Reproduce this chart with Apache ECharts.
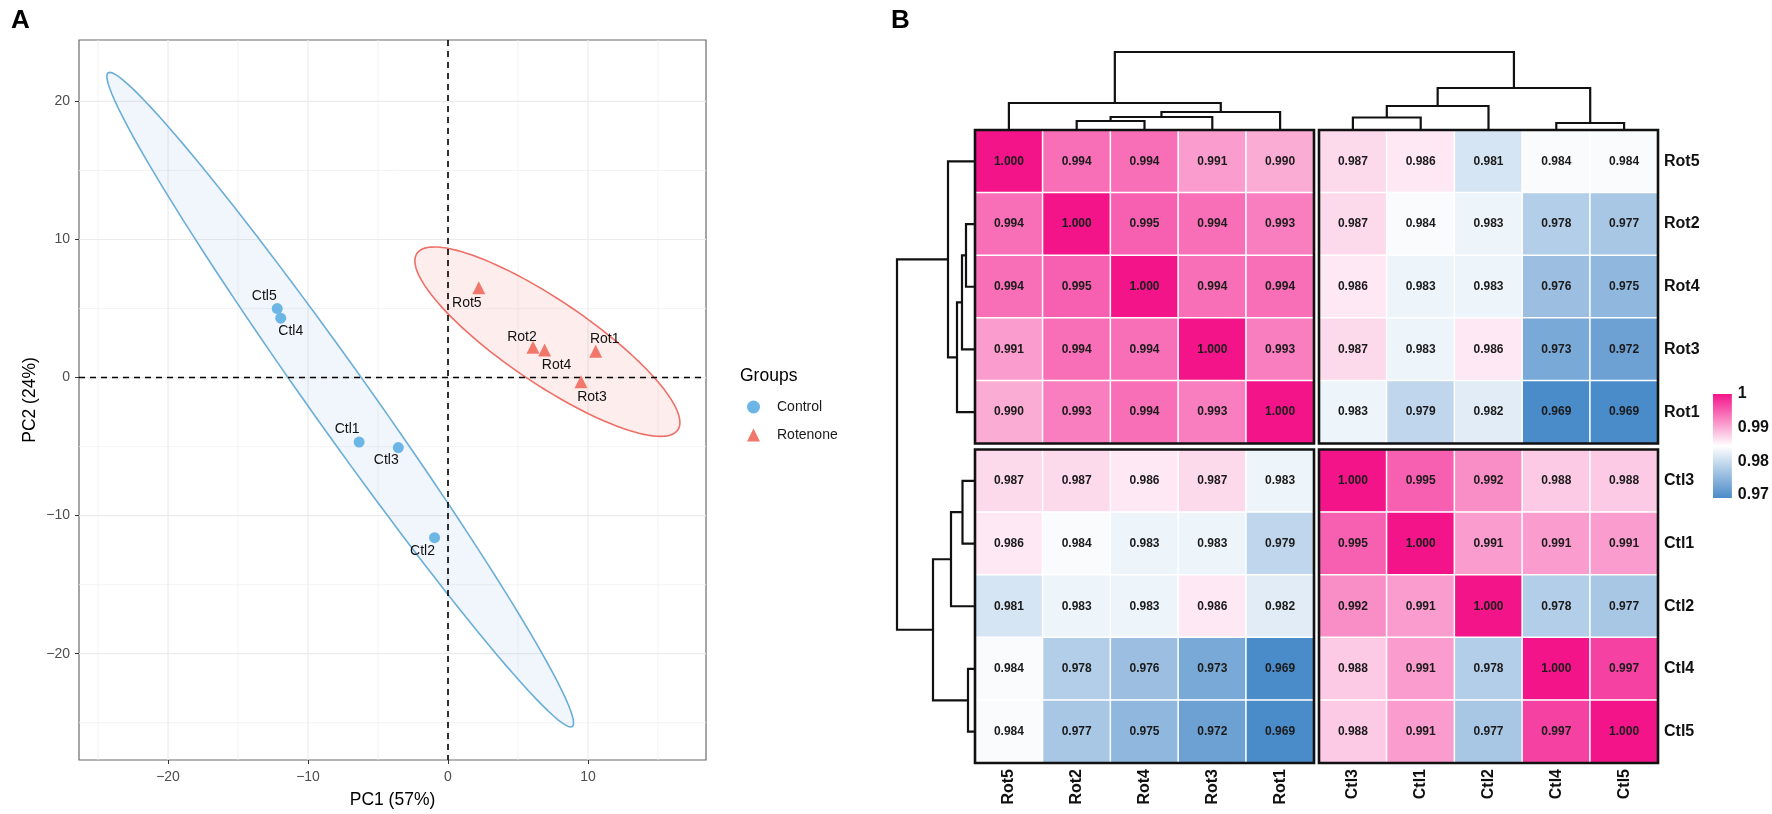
<!DOCTYPE html>
<html>
<head>
<meta charset="utf-8">
<script src="https://cdn.jsdelivr.net/npm/echarts@6/dist/echarts.min.js"></script>
<style>
html,body{margin:0;padding:0;background:#fff}
#main{width:1772px;height:814px}
</style>
</head>
<body>
<div id="main"></div>
<script>
// ---------- panel A: PCA scores ----------
const ctlNames = ['Ctl1', 'Ctl2', 'Ctl3', 'Ctl4', 'Ctl5'];
const ctlPC1 = [-6.35, -0.96, -3.55, -11.95, -12.2];
const ctlPC2 = [-4.67, -11.6, -5.07, 4.3, 5.0];
const rotNames = ['Rot1', 'Rot2', 'Rot3', 'Rot4', 'Rot5'];
const rotPC1 = [10.55, 6.07, 9.5, 6.9, 2.2];
const rotPC2 = [1.9, 2.2, -0.3, 2.0, 6.5];
// 95% ellipses: centre x, centre y, semi-major, semi-minor, angle of major axis (deg)
const ctlEllipse = [-7.7, -1.6, 28.9, 2.15, 125];
const rotEllipse = [7.1, 2.6, 11.3, 3.0, -34.5];
// axis ticks / grid lines
const pcaMajorX = [-20, -10, 0, 10];
const pcaMinorX = [-25, -15, -5, 5, 15];
const pcaMajorY = [-20, -10, 0, 10, 20];
const pcaMinorY = [-25, -15, -5, 5, 15];

// ---------- panel B: sample correlation heatmap ----------
const samples = ['Rot5', 'Rot2', 'Rot4', 'Rot3', 'Rot1', 'Ctl3', 'Ctl1', 'Ctl2', 'Ctl4', 'Ctl5'];
const corr = [
  [1.000, 0.994, 0.994, 0.991, 0.990, 0.987, 0.986, 0.981, 0.984, 0.984],
  [0.994, 1.000, 0.995, 0.994, 0.993, 0.987, 0.984, 0.983, 0.978, 0.977],
  [0.994, 0.995, 1.000, 0.994, 0.994, 0.986, 0.983, 0.983, 0.976, 0.975],
  [0.991, 0.994, 0.994, 1.000, 0.993, 0.987, 0.983, 0.986, 0.973, 0.972],
  [0.990, 0.993, 0.994, 0.993, 1.000, 0.983, 0.979, 0.982, 0.969, 0.969],
  [0.987, 0.987, 0.986, 0.987, 0.983, 1.000, 0.995, 0.992, 0.988, 0.988],
  [0.986, 0.984, 0.983, 0.983, 0.979, 0.995, 1.000, 0.991, 0.991, 0.991],
  [0.981, 0.983, 0.983, 0.986, 0.982, 0.992, 0.991, 1.000, 0.978, 0.977],
  [0.984, 0.978, 0.976, 0.973, 0.969, 0.988, 0.991, 0.978, 1.000, 0.997],
  [0.984, 0.977, 0.975, 0.972, 0.969, 0.988, 0.991, 0.977, 0.997, 1.000]
];
// hierarchical clustering (same tree for rows and columns): child, child, merge height
const dendroMerges = [
  ['Ctl4', 'Ctl5', 0.7],
  ['Rot2', 'Rot4', 0.9],
  ['m1', 'Rot3', 1.3],
  ['Ctl3', 'Ctl1', 1.25],
  ['m2', 'Rot1', 1.8],
  ['m3', 'Ctl2', 2.4],
  ['Rot5', 'm4', 2.7],
  ['m5', 'm0', 4.2],
  ['m6', 'm7', 7.8]
];
const legendTicks = [0.97, 0.98, 0.99, 1];

const FONT = '"Liberation Sans", Arial, Helvetica, sans-serif';
const BLUE = '#4a8bc9', PINK = '#f3148a';
const CTL_COL = '#6cb6e6', ROT_COL = '#f2776b';

// label placement for point names (px offsets from the point)
const labelOffset = {
  Ctl1: [-12, -13], Ctl2: [-12, 13], Ctl3: [-12, 13], Ctl4: [10, 13], Ctl5: [-13, -12],
  Rot1: [9, -12], Rot2: [-11, -10], Rot3: [11, 15], Rot4: [12, 15], Rot5: [-12, 15]
};

// layout of panel B
const HM = { left: 975, top: 130, cw: 67.8, ch: 62.7, gapX: 5, gapY: 6 };
const blockW = HM.cw * 5, blockH = HM.ch * 5;
const gx = HM.gapX / HM.cw, gy = HM.gapY / HM.ch;

const chart = echarts.init(document.getElementById('main'));

const minus = v => String(v).replace('-', '\u2212');

function scatterData(names, xs, ys) {
  return names.map((n, i) => ({
    name: n,
    value: [xs[i], ys[i]],
    label: { offset: labelOffset[n] }
  }));
}

function ellipseSeries(params, stroke, fill) {
  return {
    type: 'custom',
    xAxisIndex: 0, yAxisIndex: 0,
    z: 2, silent: true, clip: true,
    data: [[params[0], params[1]]],
    renderItem: function (p, api) {
      const [cx, cy, a, b, deg] = params;
      const th = deg * Math.PI / 180;
      const pts = [];
      for (let k = 0; k <= 120; k++) {
        const t = k / 120 * Math.PI * 2;
        const x = cx + a * Math.cos(t) * Math.cos(th) - b * Math.sin(t) * Math.sin(th);
        const y = cy + a * Math.cos(t) * Math.sin(th) + b * Math.sin(t) * Math.cos(th);
        pts.push(api.coord([x, y]));
      }
      return { type: 'polygon', shape: { points: pts }, style: { fill: fill, stroke: stroke, lineWidth: 1.6 } };
    }
  };
}

function refLineSeries(lines, z) {
  // lines: [value, orientation(0 = vertical, 1 = horizontal), kind]
  return {
    type: 'custom',
    xAxisIndex: 0, yAxisIndex: 0,
    z: z, silent: true,
    data: lines,
    renderItem: function (p, api) {
      const cs = p.coordSys;
      const v = api.value(0), o = api.value(1), kind = api.value(2);
      let shape;
      if (o === 0) {
        const x = api.coord([v, 0])[0];
        shape = { x1: x, y1: cs.y, x2: x, y2: cs.y + cs.height };
      } else {
        const y = api.coord([0, v])[1];
        shape = { x1: cs.x, y1: y, x2: cs.x + cs.width, y2: y };
      }
      let style;
      if (kind === 2) style = { stroke: '#000', lineWidth: 1.6, lineDash: [6, 5] };
      else if (kind === 1) style = { stroke: '#ebebeb', lineWidth: 1.2 };
      else style = { stroke: '#f0f0f0', lineWidth: 0.8 };
      return { type: 'line', shape: shape, style: style };
    }
  };
}

const gridLines = [];
pcaMinorX.forEach(v => gridLines.push([v, 0, 0]));
pcaMinorY.forEach(v => gridLines.push([v, 1, 0]));
pcaMajorX.forEach(v => gridLines.push([v, 0, 1]));
pcaMajorY.forEach(v => gridLines.push([v, 1, 1]));

// ---------- options ----------
const grids = [{ left: 79, top: 40, width: 627, height: 725, show: true, borderColor: '#6b6b6b', borderWidth: 1.2, backgroundColor: '#fff' }];
const xAxes = [{
  type: 'value', gridIndex: 0, min: -26.36, max: 18.43,
  name: 'PC1 (57%)', nameLocation: 'middle', nameGap: 31,
  nameTextStyle: { fontFamily: FONT, fontSize: 17.5, color: '#000' },
  axisLine: { show: false, onZero: false },
  axisTick: { show: true, length: 4, customValues: pcaMajorX, lineStyle: { color: '#333' } },
  axisLabel: { customValues: pcaMajorX, formatter: minus, fontFamily: FONT, fontSize: 14, color: '#4d4d4d', margin: 10 },
  splitLine: { show: false }
}];
const yAxes = [{
  type: 'value', gridIndex: 0, min: -27.7, max: 24.45,
  name: 'PC2 (24%)', nameLocation: 'middle', nameGap: 40,
  nameTextStyle: { fontFamily: FONT, fontSize: 17.5, color: '#000' },
  axisLine: { show: false, onZero: false },
  axisTick: { show: true, length: 4, customValues: pcaMajorY, lineStyle: { color: '#333' } },
  axisLabel: { customValues: pcaMajorY, formatter: minus, fontFamily: FONT, fontSize: 14, color: '#4d4d4d', margin: 9 },
  splitLine: { show: false }
}];

const series = [
  refLineSeries(gridLines, 1),
  ellipseSeries(ctlEllipse, '#6aaed8', 'rgba(108,170,220,0.10)'),
  ellipseSeries(rotEllipse, '#ee6f66', 'rgba(240,118,106,0.13)'),
  refLineSeries([[0, 0, 2], [0, 1, 2]], 3),
  {
    name: 'Control', type: 'scatter', xAxisIndex: 0, yAxisIndex: 0, z: 4,
    symbol: 'circle', symbolSize: 11, itemStyle: { color: CTL_COL, opacity: 1 },
    label: { show: true, position: 'inside', formatter: '{b}', fontFamily: FONT, fontSize: 14, color: '#111' },
    emphasis: { disabled: true },
    data: scatterData(ctlNames, ctlPC1, ctlPC2)
  },
  {
    name: 'Rotenone', type: 'scatter', xAxisIndex: 0, yAxisIndex: 0, z: 4,
    symbol: 'triangle', symbolSize: 13, itemStyle: { color: ROT_COL, opacity: 1 },
    label: { show: true, position: 'inside', formatter: '{b}', fontFamily: FONT, fontSize: 14, color: '#111' },
    emphasis: { disabled: true },
    data: scatterData(rotNames, rotPC1, rotPC2)
  }
];

// heatmap blocks (2 x 2)
const heatSeriesIdx = [];
for (let bi = 0; bi < 2; bi++) {
  for (let bj = 0; bj < 2; bj++) {
    const g = grids.length;
    grids.push({
      left: HM.left + bj * (blockW + HM.gapX),
      top: HM.top + bi * (blockH + HM.gapY),
      width: blockW, height: blockH
    });
    xAxes.push({
      type: 'category', gridIndex: g, position: 'bottom',
      data: samples.slice(bj * 5, bj * 5 + 5),
      axisLine: { show: false }, axisTick: { show: false }, splitLine: { show: false },
      axisLabel: { show: bi === 1, rotate: 90, margin: 6, fontFamily: FONT, fontSize: 16, fontWeight: 'bold', color: '#111' }
    });
    yAxes.push({
      type: 'category', gridIndex: g, position: 'right', inverse: true,
      data: samples.slice(bi * 5, bi * 5 + 5),
      axisLine: { show: false }, axisTick: { show: false }, splitLine: { show: false },
      axisLabel: { show: bj === 1, margin: 6, fontFamily: FONT, fontSize: 16, fontWeight: 'bold', color: '#111' }
    });
    const data = [];
    for (let r = 0; r < 5; r++) {
      for (let c = 0; c < 5; c++) {
        data.push([c, r, corr[bi * 5 + r][bj * 5 + c]]);
      }
    }
    heatSeriesIdx.push(series.length);
    series.push({
      type: 'heatmap', xAxisIndex: g, yAxisIndex: g,
      data: data,
      itemStyle: { borderColor: '#fff', borderWidth: 1.5 },
      label: {
        show: true, fontFamily: FONT, fontSize: 12, fontWeight: 'bold', color: '#1b1b1b',
        formatter: p => p.value[2].toFixed(3)
      },
      emphasis: { disabled: true }
    });
    // black frame round the block
    series.push({
      type: 'custom', xAxisIndex: g, yAxisIndex: g, z: 5, silent: true,
      data: [[0, 0]],
      renderItem: function (p) {
        const cs = p.coordSys;
        return { type: 'rect', shape: { x: cs.x, y: cs.y, width: cs.width, height: cs.height },
          style: { fill: 'none', stroke: '#111', lineWidth: 2.6 } };
      }
    });
  }
}

// dendrograms
const nodes = {};
samples.forEach((s, i) => { nodes[s] = { i: i, h: 0 }; });
function leafPos(i, gap) { return i + 0.5 + (i >= 5 ? gap : 0); }
dendroMerges.forEach((m, k) => {
  nodes['m' + k] = { a: m[0], b: m[1], h: m[2] };
});
function nodePos(key, gap) {
  const n = nodes[key];
  if (n.i !== undefined) return leafPos(n.i, gap);
  return (nodePos(n.a, gap) + nodePos(n.b, gap)) / 2;
}
const rootH = Math.max(...dendroMerges.map(m => m[2]));

function dendroSeries(g, horizontal) {
  const gap = horizontal ? gy : gx;
  return {
    type: 'custom', xAxisIndex: g, yAxisIndex: g, silent: true, clip: false,
    data: dendroMerges.map((m, k) => [k, m[2]]),
    renderItem: function (p, api) {
      const m = dendroMerges[p.dataIndex];
      const h = m[2];
      const pa = nodePos(m[0], gap), pb = nodePos(m[1], gap);
      const ha = nodes[m[0]].h, hb = nodes[m[1]].h;
      const c = horizontal ? (pos, hh) => api.coord([hh, pos]) : (pos, hh) => api.coord([pos, hh]);
      return {
        type: 'polyline',
        shape: { points: [c(pa, ha), c(pa, h), c(pb, h), c(pb, hb)] },
        style: { fill: 'none', stroke: '#111', lineWidth: 2.2 }
      };
    }
  };
}

let g = grids.length;
grids.push({ left: HM.left, top: HM.top - 78, width: 2 * blockW + HM.gapX, height: 78 });
xAxes.push({ type: 'value', gridIndex: g, min: 0, max: 10 + gx, show: false });
yAxes.push({ type: 'value', gridIndex: g, min: 0, max: rootH, show: false });
series.push(dendroSeries(g, false));

g = grids.length;
grids.push({ left: HM.left - 78, top: HM.top, width: 78, height: 2 * blockH + HM.gapY });
xAxes.push({ type: 'value', gridIndex: g, min: 0, max: rootH, inverse: true, show: false });
yAxes.push({ type: 'value', gridIndex: g, min: 0, max: 10 + gy, inverse: true, show: false });
series.push(dendroSeries(g, true));

// colour key
const vMin = Math.min(...corr.flat()), vMax = Math.max(...corr.flat());
g = grids.length;
grids.push({ left: 1713, top: 394, width: 21, height: 104 });
xAxes.push({ type: 'value', gridIndex: g, min: 0, max: 1, show: false });
yAxes.push({
  type: 'value', gridIndex: g, min: vMin, max: vMax, position: 'right',
  axisLine: { show: false }, splitLine: { show: false },
  axisTick: { show: true, inside: true, length: 4, customValues: legendTicks, lineStyle: { color: '#fff', width: 1.2 } },
  axisLabel: { customValues: legendTicks, margin: 6, fontFamily: FONT, fontSize: 16, fontWeight: 'bold', color: '#111',
    formatter: v => String(+v.toFixed(2)) }
});
series.push({
  type: 'custom', xAxisIndex: g, yAxisIndex: g, silent: true,
  data: [[0, vMin, 1, vMax]],
  renderItem: function (p, api) {
    const p0 = api.coord([0, vMax]), p1 = api.coord([1, vMin]);
    return {
      type: 'rect',
      shape: { x: p0[0], y: p0[1], width: p1[0] - p0[0], height: p1[1] - p0[1] },
      style: {
        fill: new echarts.graphic.LinearGradient(0, 0, 0, 1, [
          { offset: 0, color: PINK }, { offset: 0.5, color: '#ffffff' }, { offset: 1, color: BLUE }
        ])
      }
    };
  }
});

const option = {
  animation: false,
  backgroundColor: '#fff',
  textStyle: { fontFamily: FONT },
  title: [
    { text: 'A', left: 6, top: 3, textStyle: { fontFamily: FONT, fontSize: 26, fontWeight: 'bold', color: '#000' } },
    { text: 'B', left: 886, top: 3, textStyle: { fontFamily: FONT, fontSize: 26, fontWeight: 'bold', color: '#000' } },
    { text: 'Groups', left: 735, top: 362, textStyle: { fontFamily: FONT, fontSize: 17.5, fontWeight: 'normal', color: '#000' } }
  ],
  legend: {
    orient: 'vertical', left: 742, top: 395, itemWidth: 13, itemHeight: 13, itemGap: 14,
    selectedMode: false,
    textStyle: { fontFamily: FONT, fontSize: 14, color: '#1a1a1a', padding: [0, 0, 0, 12] },
    data: [{ name: 'Control', icon: 'circle' }, { name: 'Rotenone', icon: 'triangle' }]
  },
  visualMap: {
    type: 'continuous', show: false, min: vMin, max: vMax,
    seriesIndex: heatSeriesIdx,
    inRange: { color: [BLUE, '#ffffff', PINK] }
  },
  grid: grids,
  xAxis: xAxes,
  yAxis: yAxes,
  series: series
};
chart.setOption(option);
</script>
</body>
</html>
